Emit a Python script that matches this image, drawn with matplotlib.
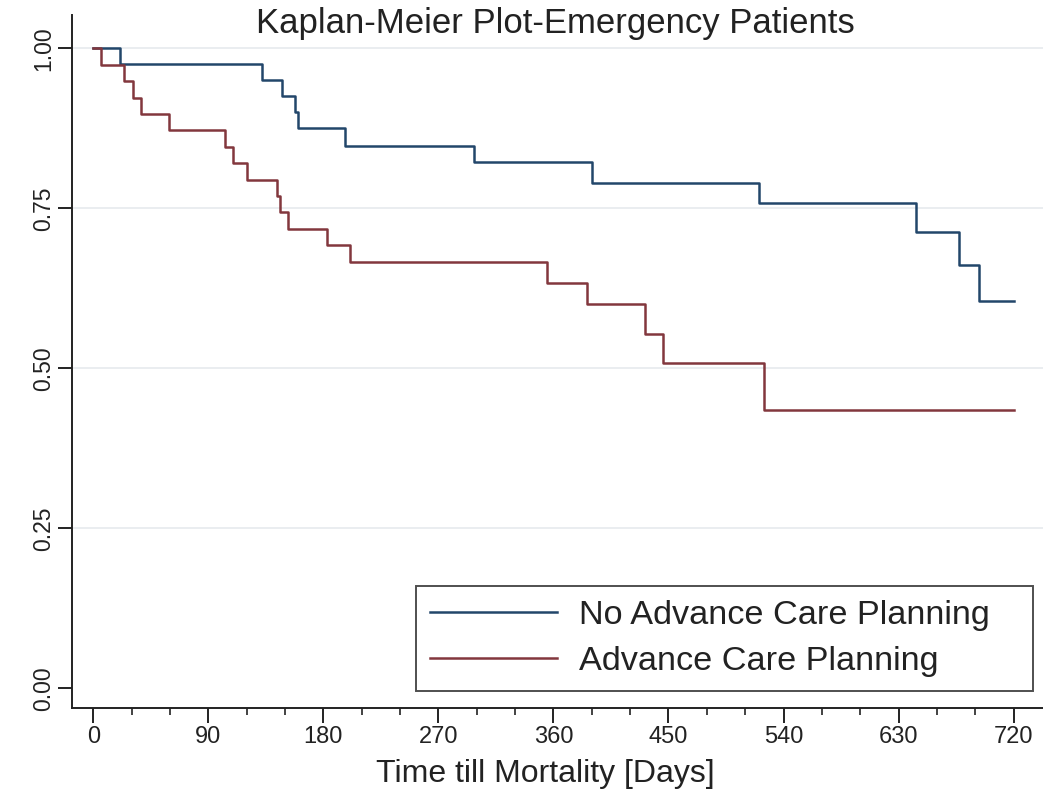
import matplotlib
matplotlib.use("Agg")
import matplotlib.pyplot as plt
from matplotlib.ticker import MultipleLocator

# ---- data ----
title_text = "Kaplan-Meier Plot-Emergency Patients"
xlabel_text = "Time till Mortality [Days]"
series_labels = ["No Advance Care Planning", "Advance Care Planning"]

no_acp_times = [0, 21, 132, 148, 158, 160, 197, 298, 390, 521, 644, 677, 693, 720]
no_acp_surv = [1.0, 0.975, 0.95, 0.925, 0.90, 0.875, 0.848, 0.822, 0.79, 0.758,
               0.713, 0.661, 0.606, 0.606]

acp_times = [0, 6, 24, 31, 37, 59, 103, 109, 120, 144, 146, 152, 183, 201,
             355, 386, 432, 446, 525, 720]
acp_surv = [1.0, 0.974, 0.949, 0.923, 0.897, 0.872, 0.846, 0.821, 0.795, 0.769,
            0.744, 0.718, 0.692, 0.666, 0.633, 0.601, 0.553, 0.509, 0.435, 0.435]

x_major = [0, 90, 180, 270, 360, 450, 540, 630, 720]
y_major = [0.0, 0.25, 0.50, 0.75, 1.00]
y_labels = ["0.00", "0.25", "0.50", "0.75", "1.00"]

blue = "#22466a"
red = "#82373d"

plt.rcParams['font.family'] = ['Liberation Sans', 'DejaVu Sans']

W, H = 1043, 793
fig = plt.figure(figsize=(W / 100, H / 100), dpi=100)
fig.patch.set_facecolor("white")

left_px, right_px, top_px, bottom_px = 71.7, 1043, 15, 708.3
ax = fig.add_axes([left_px / W, 1 - bottom_px / H,
                   (right_px - left_px) / W, (bottom_px - top_px) / H])

# gridlines (not at 0)
for yv in y_major[1:]:
    ax.axhline(yv, color="#e4e8ec", lw=1.1, zorder=0)

ax.step(no_acp_times, no_acp_surv, where="post", color=blue, lw=1.8,
        label=series_labels[0], zorder=3)
ax.step(acp_times, acp_surv, where="post", color=red, lw=1.8,
        label=series_labels[1], zorder=3)

ax.set_xlim(-16.9, 743)
ax.set_ylim(-0.031, 1.052)

for s in ["top", "right"]:
    ax.spines[s].set_visible(False)
for s in ["left", "bottom"]:
    ax.spines[s].set_linewidth(1.4)
    ax.spines[s].set_color("#222222")

ax.set_xticks(x_major)
ax.set_xticklabels([str(v) for v in x_major])
ax.xaxis.set_minor_locator(MultipleLocator(30))
ax.set_yticks(y_major)
ax.set_yticklabels(y_labels)

ax.tick_params(axis="x", which="major", length=11, width=1.4, pad=2,
               labelsize=17, colors="#222222")
ax.tick_params(axis="x", which="minor", length=5, width=1.2, colors="#222222")
ax.tick_params(axis="y", which="major", length=10, width=1.4, pad=2,
               labelsize=16.5, colors="#222222", labelrotation=90)
for lab in ax.get_yticklabels():
    lab.set_va("center")

ax.set_xlabel(xlabel_text, fontsize=23, color="#222222")
ax.xaxis.set_label_coords((545 - left_px) / (right_px - left_px),
                          -(782 - bottom_px) / (bottom_px - top_px))
ax.xaxis.label.set_va("baseline")

fig.text(555 / W, 1 - 33 / H, title_text, ha="center", va="baseline",
         fontsize=25, color="#222222")

leg = ax.legend(loc="upper left",
                bbox_to_anchor=(416 / W, 1 - 695 / H, (1033 - 416) / W, (695 - 586) / H),
                bbox_transform=fig.transFigure, mode="expand",
                fontsize=24.7, frameon=True, fancybox=False, shadow=False,
                handlelength=3.7, handletextpad=0.65, borderpad=0.4,
                labelspacing=0.45, borderaxespad=0)
leg.get_frame().set_edgecolor("#222222")
leg.get_frame().set_linewidth(1.4)
for t in leg.get_texts():
    t.set_color("#222222")
for h in leg.get_lines():
    h.set_linewidth(1.8)

fig.savefig("out.png", dpi=100, facecolor="white")
